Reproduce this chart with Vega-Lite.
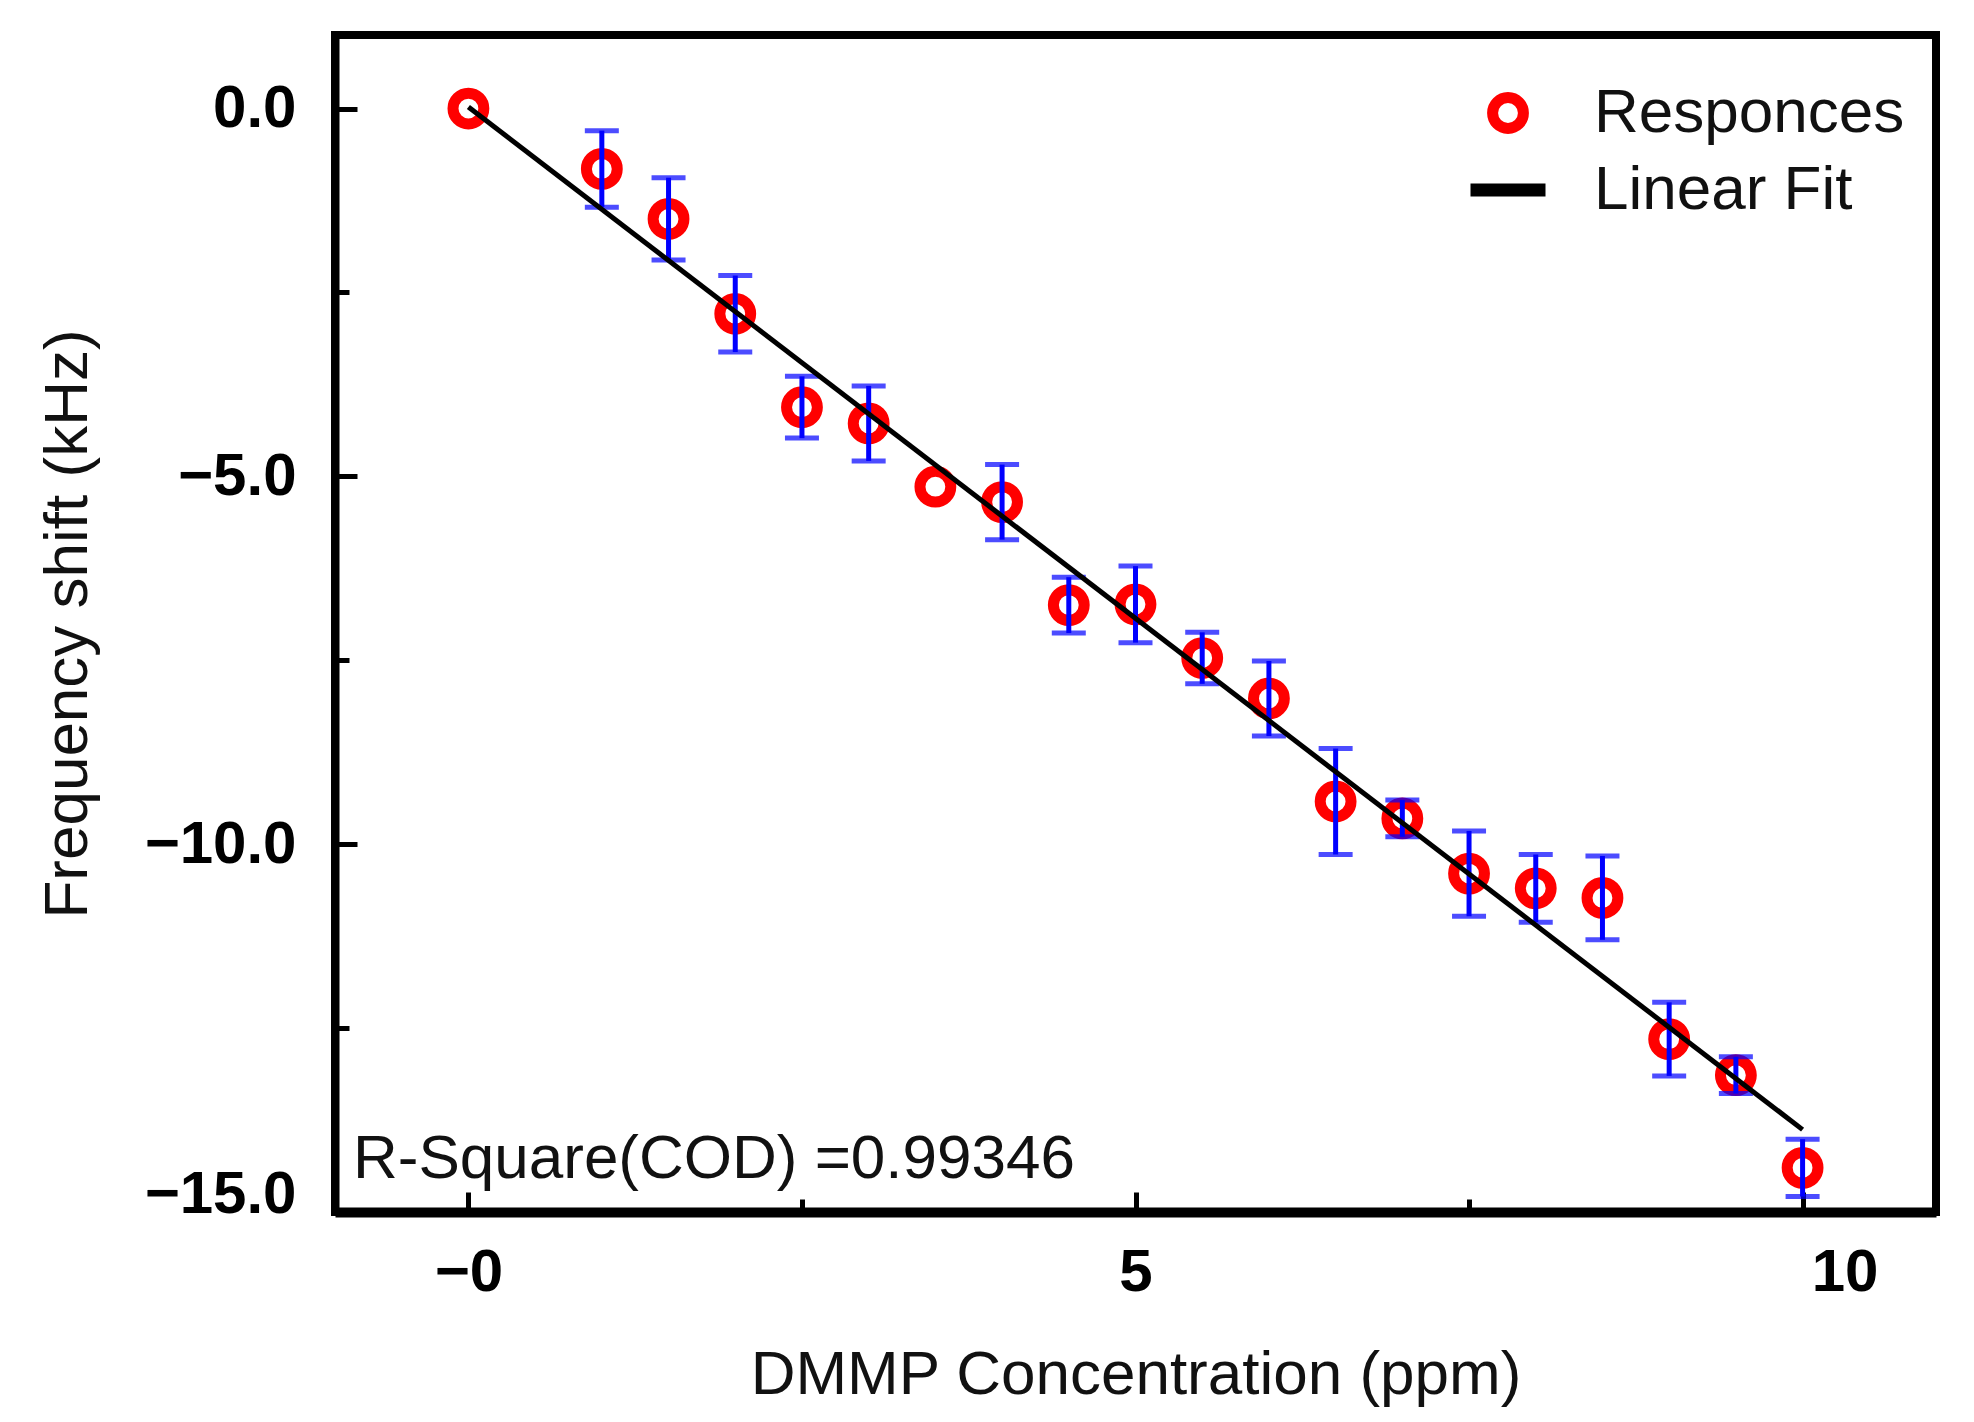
{
  "$schema": "https://vega.github.io/schema/vega-lite/v6.json",
  "description": "DMMP concentration vs frequency shift with linear fit",
  "autosize": "none",
  "width": 1601,
  "height": 1177,
  "padding": {"left": 335, "top": 35, "right": 38, "bottom": 210},
  "background": "white",
  "datasets": {
    "responses": [
      {"conc": 0, "shift": 0.0, "err": null, "series": "Responces"},
      {"conc": 1.0, "shift": -0.82, "err": 0.52, "series": "Responces"},
      {"conc": 1.5, "shift": -1.5, "err": 0.56, "series": "Responces"},
      {"conc": 2.0, "shift": -2.79, "err": 0.52, "series": "Responces"},
      {"conc": 2.5, "shift": -4.06, "err": 0.42, "series": "Responces"},
      {"conc": 3.0, "shift": -4.28, "err": 0.51, "series": "Responces"},
      {"conc": 3.5, "shift": -5.14, "err": null, "series": "Responces"},
      {"conc": 4.0, "shift": -5.35, "err": 0.51, "series": "Responces"},
      {"conc": 4.5, "shift": -6.75, "err": 0.38, "series": "Responces"},
      {"conc": 5.0, "shift": -6.74, "err": 0.52, "series": "Responces"},
      {"conc": 5.5, "shift": -7.47, "err": 0.35, "series": "Responces"},
      {"conc": 6.0, "shift": -8.02, "err": 0.51, "series": "Responces"},
      {"conc": 6.5, "shift": -9.42, "err": 0.72, "series": "Responces"},
      {"conc": 7.0, "shift": -9.65, "err": 0.25, "series": "Responces"},
      {"conc": 7.5, "shift": -10.4, "err": 0.58, "series": "Responces"},
      {"conc": 8.0, "shift": -10.6, "err": 0.46, "series": "Responces"},
      {"conc": 8.5, "shift": -10.73, "err": 0.57, "series": "Responces"},
      {"conc": 9.0, "shift": -12.65, "err": 0.5, "series": "Responces"},
      {"conc": 9.5, "shift": -13.14, "err": 0.25, "series": "Responces"},
      {"conc": 10.0, "shift": -14.4, "err": 0.39, "series": "Responces"}
    ],
    "fit": [
      {"conc": 0, "shift": 0.02},
      {"conc": 10, "shift": -13.88}
    ]
  },
  "layer": [
    {
      "data": {"name": "responses"},
      "mark": {"type": "point", "filled": false, "opacity": 1},
      "encoding": {
        "x": {
          "field": "conc",
          "type": "quantitative",
          "title": "DMMP Concentration (ppm)",
          "scale": {"domain": [-1, 11], "nice": false, "zero": false},
          "axis": {
            "values": [0, 2.5, 5, 7.5, 10],
            "labelExpr": "datum.value === 0 ? '−0' : (datum.value % 5 === 0 ? format(datum.value, 'd') : '')",
            "labelOffset": {"condition": {"test": "datum.value === 10", "value": 42}, "value": 0},
            "tickSize": {"condition": {"test": "datum.value % 5 !== 0", "value": -13}, "value": -20},
            "labelPadding": 51,
            "labelFlush": false,
            "titleY": 132,
            "domainWidth": 10
          }
        },
        "y": {
          "field": "shift",
          "type": "quantitative",
          "title": "Frequency shift (kHz)",
          "scale": {"domain": [-15, 1], "nice": false, "zero": false},
          "axis": {
            "values": [-15, -12.5, -10, -7.5, -5, -2.5, 0],
            "labelExpr": "datum.value % 5 === 0 ? format(datum.value, '.1f') : ''",
            "labelBaseline": {"condition": {"test": "datum.value === -15", "value": "alphabetic"}, "value": "middle"},
            "tickSize": {"condition": {"test": "datum.value % 5 !== 0", "value": -14}, "value": -22},
            "labelPadding": 61,
            "titleX": -236,
            "domainWidth": 8
          }
        },
        "color": {
          "field": "series",
          "type": "nominal",
          "scale": {"domain": ["Responces", "Linear Fit"], "range": ["#ff0000", "#000000"]},
          "legend": {
            "title": null,
            "orient": "none",
            "legendX": 1129,
            "legendY": 43,
            "direction": "vertical",
            "padding": 0,
            "clipHeight": 70,
            "rowPadding": 7,
            "labelOffset": 42,
            "labelFont": "Liberation Sans",
            "labelFontSize": 62,
            "labelColor": "#111111",
            "labelLimit": 0
          }
        },
        "shape": {
          "field": "series",
          "type": "nominal",
          "scale": {"domain": ["Responces", "Linear Fit"], "range": ["circle", "stroke"]}
        },
        "size": {
          "field": "series",
          "type": "ordinal",
          "scale": {"domain": ["Responces", "Linear Fit"], "range": [950, 5625]}
        },
        "strokeWidth": {
          "field": "series",
          "type": "ordinal",
          "scale": {"domain": ["Responces", "Linear Fit"], "range": [11, 13]}
        }
      }
    },
    {
      "data": {"name": "responses"},
      "transform": [{"filter": "isValid(datum.err)"}],
      "mark": {"type": "errorbar", "ticks": {"thickness": 5}, "size": 34, "thickness": 5, "color": "#0000ff"},
      "encoding": {
        "x": {"field": "conc", "type": "quantitative", "title": "DMMP Concentration (ppm)"},
        "y": {"field": "shift", "type": "quantitative", "title": "Frequency shift (kHz)"},
        "yError": {"field": "err"}
      }
    },
    {
      "data": {"name": "fit"},
      "mark": {"type": "line", "color": "#000000", "strokeWidth": 5},
      "encoding": {
        "x": {"field": "conc", "type": "quantitative", "title": "DMMP Concentration (ppm)"},
        "y": {"field": "shift", "type": "quantitative", "title": "Frequency shift (kHz)"}
      }
    },
    {
      "data": {"values": [{}]},
      "mark": {
        "type": "text",
        "text": "R-Square(COD) =0.99346",
        "align": "left",
        "baseline": "alphabetic",
        "font": "Liberation Sans",
        "fontSize": 62,
        "color": "#111111"
      },
      "encoding": {
        "x": {"datum": -0.865},
        "y": {"datum": -14.54}
      }
    }
  ],
  "config": {
    "view": {"stroke": "#000000", "strokeWidth": 8},
    "axis": {
      "grid": false,
      "domainColor": "#000000",
      "tickColor": "#000000",
      "tickWidth": 5,
      "labelFont": "Liberation Sans",
      "labelFontSize": 60,
      "labelFontWeight": "bold",
      "labelColor": "#000000",
      "titleFont": "Liberation Sans",
      "titleFontSize": 62,
      "titleFontWeight": "normal",
      "titleColor": "#111111"
    }
  }
}
